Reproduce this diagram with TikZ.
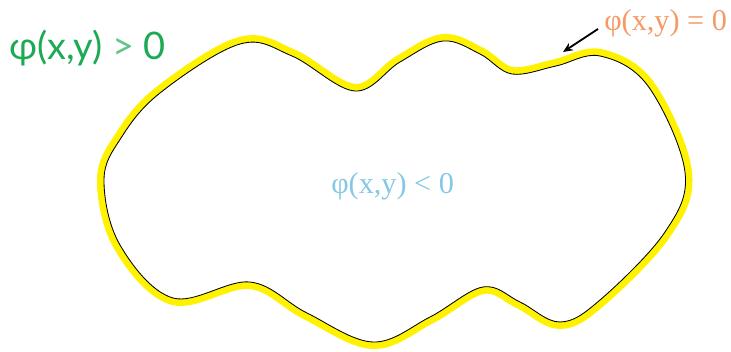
\documentclass[tikz,border=0pt]{standalone}
\usepackage{fontspec}
\setsansfont{Lato}
\newfontfamily\serifgreek{Liberation Serif}
\usepackage{tikz}
\usetikzlibrary{arrows.meta}
\definecolor{outgreen}{HTML}{1EAA55}
\definecolor{linorange}{HTML}{F59A66}
\definecolor{inblue}{HTML}{86C8E4}
\definecolor{bandyellow}{HTML}{FFF200}

% the level set curve, in pixel units
\def\levelset{plot[smooth cycle, tension=0.6] coordinates {
  (104,180) (121,138) (160,93) (240,44) (292,56) (355,91)
  (400,62) (443,41) (480,54) (512,74) (556,66) (600,56) (648,86)
  (685,172) (665,232) (600,300) (560,322) (520,302) (483,287)
  (430,317) (373,342) (307,313) (250,282) (173,298) (120,245)}}

\begin{document}
\begin{tikzpicture}[x=0.025cm, y=-0.025cm,
    regionlabel/.style={inner sep=0pt, anchor=base west},
    arr/.style={-{Stealth[length=7pt, width=6pt]}, line width=1.3pt, black},
]
\useasboundingbox (0,0) rectangle (731,352);

% yellow band outside the curve
\begin{scope}[even odd rule]
  \clip (0,0) rectangle (731,352) \levelset;
  \draw[bandyellow, line width=14*0.025cm] \levelset;
\end{scope}
\draw[black, line width=0.6pt] \levelset;

% labels
\node[regionlabel, text=outgreen, font=\sffamily\fontsize{27}{30}\selectfont]
  (outside) at (9,60) {φ(x,y) \textcolor{outgreen!70}{>} 0};
\node[regionlabel, text=linorange, font=\serifgreek\fontsize{21.5}{24}\selectfont]
  (boundary) at (604,31) {φ(x,y) = 0};
\node[regionlabel, text=inblue, font=\serifgreek\fontsize{21.5}{24}\selectfont]
  (inside) at (331,194) {φ(x,y) < 0};

\coordinate (arrstart) at (598,29);
\coordinate (onlevel) at (563,52);
\draw[arr] (arrstart) -- (onlevel);

\end{tikzpicture}
\end{document}
